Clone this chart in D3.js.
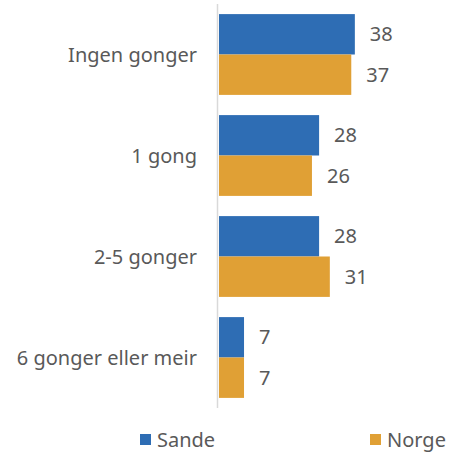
<!DOCTYPE html>
<html><head><meta charset="utf-8">
<script src="https://cdn.jsdelivr.net/npm/d3@7"></script>
<style>body{margin:0;background:#fff}svg{display:block}text{font-family:"Noto Sans",sans-serif;fill:#595959}</style>
</head><body><svg id="c" width="451" height="457"></svg>
<script>
const categories = ["Ingen gonger","1 gong","2-5 gonger","6 gonger eller meir"];
const seriesNames = ["Sande","Norge"];
const sande = [38,28,28,7];
const norge = [37,26,31,7];
const colors = ["#2e6db4","#e0a035"];

const svg = d3.select("#c");
const x0 = 219, plotTop = 4, plotBottom = 408;
const x = d3.scaleLinear().domain([0,40]).range([x0, x0+143]);
const y = d3.scaleBand().domain(categories).range([plotTop,plotBottom]).paddingInner(0.2).paddingOuter(0.1);
const ys = d3.scaleBand().domain(seriesNames).range([0,y.bandwidth()]);
const data = categories.map((c,i)=>({c, vals:[sande[i],norge[i]]}));

const g = svg.append("g");
data.forEach(d=>{
  d.vals.forEach((v,j)=>{
    const yy = y(d.c)+ys(seriesNames[j]);
    g.append("rect").attr("x",x(0)).attr("y",yy).attr("width",x(v)-x(0)).attr("height",ys.bandwidth()).attr("fill",colors[j]);
    g.append("text").attr("x",x(v)+15).attr("y",yy+ys.bandwidth()/2).attr("dy","0.35em").attr("font-size",20).attr("fill","#404040").text(v);
  });
});
const ya = d3.scaleBand().domain(categories).range([plotTop,plotBottom]);
categories.forEach(c=>{
  svg.append("text").attr("x",197).attr("y",ya(c)+ya.bandwidth()/2).attr("dy","0.35em").attr("text-anchor","end").attr("font-size",20).text(c);
});
svg.append("line").attr("x1",217.5).attr("x2",217.5).attr("y1",plotTop).attr("y2",plotBottom).attr("stroke","#d9d9d9").attr("stroke-width",1.5);

const legX = [140,370];
seriesNames.forEach((s,j)=>{
  svg.append("rect").attr("x",legX[j]).attr("y",434).attr("width",11).attr("height",11).attr("fill",colors[j]);
  svg.append("text").attr("x",legX[j]+17).attr("y",440).attr("dy","0.35em").attr("font-size",20).text(s);
});
</script></body></html>
